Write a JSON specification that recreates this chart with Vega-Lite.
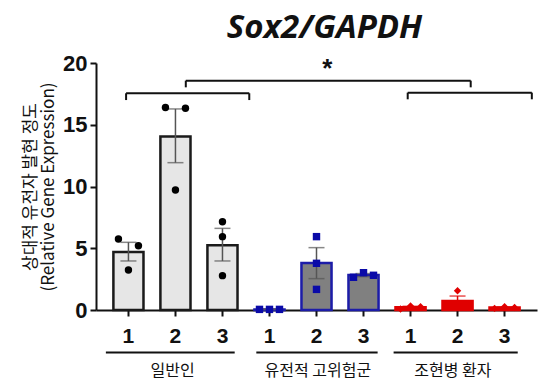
{
  "$schema": "https://vega.github.io/schema/vega-lite/v6.json",
  "width": 441,
  "height": 247,
  "autosize": {"type": "none"},
  "padding": {"left": 96, "right": 23, "top": 63, "bottom": 80},
  "background": "white",
  "config": {"view": {"stroke": null}},
  "title": {"text": "Sox2/GAPDH", "font": "Open Sans", "fontSize": 33, "fontWeight": "bold", "fontStyle": "italic", "color": "#111", "anchor": "middle", "dx": 8, "offset": 7},
  "datasets": {
    "bars": [
      {"cat": "A1", "grp": "A", "mean": 4.7, "lo": 3.97, "hi": 5.48},
      {"cat": "A2", "grp": "A", "mean": 14.05, "lo": 11.93, "hi": 16.28},
      {"cat": "A3", "grp": "A", "mean": 5.25, "lo": 3.97, "hi": 6.61},
      {"cat": "B1", "grp": "B", "mean": 0.05, "lo": 0.03, "hi": 0.07},
      {"cat": "B2", "grp": "B", "mean": 3.8, "lo": 2.54, "hi": 5.05},
      {"cat": "B3", "grp": "B", "mean": 2.83, "lo": 2.7, "hi": 2.95},
      {"cat": "C1", "grp": "C", "mean": 0.22, "lo": 0.15, "hi": 0.3},
      {"cat": "C2", "grp": "C", "mean": 0.73, "lo": 0.32, "hi": 1.13},
      {"cat": "C3", "grp": "C", "mean": 0.2, "lo": 0.15, "hi": 0.25}
    ],
    "points": [
      {"cat": "A1", "grp": "A", "pos": "L", "val": 5.75},
      {"cat": "A1", "grp": "A", "pos": "R", "val": 5.2},
      {"cat": "A1", "grp": "A", "pos": "C", "val": 3.24},
      {"cat": "A2", "grp": "A", "pos": "L", "val": 16.4},
      {"cat": "A2", "grp": "A", "pos": "R", "val": 16.33},
      {"cat": "A2", "grp": "A", "pos": "C", "val": 9.72},
      {"cat": "A3", "grp": "A", "pos": "C", "val": 7.15},
      {"cat": "A3", "grp": "A", "pos": "C", "val": 5.94},
      {"cat": "A3", "grp": "A", "pos": "C", "val": 2.78},
      {"cat": "B1", "grp": "B", "pos": "L", "val": 0.05},
      {"cat": "B1", "grp": "B", "pos": "C", "val": 0.05},
      {"cat": "B1", "grp": "B", "pos": "R", "val": 0.05},
      {"cat": "B2", "grp": "B", "pos": "C", "val": 5.94},
      {"cat": "B2", "grp": "B", "pos": "C", "val": 3.78},
      {"cat": "B2", "grp": "B", "pos": "C", "val": 1.67},
      {"cat": "B3", "grp": "B", "pos": "L", "val": 2.65},
      {"cat": "B3", "grp": "B", "pos": "C", "val": 3.02},
      {"cat": "B3", "grp": "B", "pos": "R", "val": 2.81},
      {"cat": "C1", "grp": "C", "pos": "L", "val": 0.08},
      {"cat": "C1", "grp": "C", "pos": "C", "val": 0.32},
      {"cat": "C1", "grp": "C", "pos": "R", "val": 0.27},
      {"cat": "C2", "grp": "C", "pos": "C", "val": 1.56},
      {"cat": "C2", "grp": "C", "pos": "L", "val": 0.32},
      {"cat": "C2", "grp": "C", "pos": "R", "val": 0.32},
      {"cat": "C3", "grp": "C", "pos": "L", "val": 0.13},
      {"cat": "C3", "grp": "C", "pos": "C", "val": 0.27},
      {"cat": "C3", "grp": "C", "pos": "R", "val": 0.2}
    ],
    "segs": [
      {"x": -0.05, "x2": 2.57, "y": 17.55, "y2": 17.55},
      {"x": -0.05, "x2": -0.05, "y": 17.55, "y2": 17.0},
      {"x": 2.57, "x2": 2.57, "y": 17.55, "y2": 17.0},
      {"x": 1.22, "x2": 7.28, "y": 18.57, "y2": 18.57},
      {"x": 1.22, "x2": 1.22, "y": 18.57, "y2": 18.03},
      {"x": 7.28, "x2": 7.28, "y": 18.57, "y2": 18.03},
      {"x": 5.94, "x2": 8.58, "y": 17.6, "y2": 17.6},
      {"x": 5.94, "x2": 5.94, "y": 17.6, "y2": 17.06},
      {"x": 8.58, "x2": 8.58, "y": 17.6, "y2": 17.06},
      {"x": -0.48, "x2": 2.26, "y": -3.45, "y2": -3.45},
      {"x": 2.72, "x2": 5.3, "y": -3.45, "y2": -3.45},
      {"x": 5.64, "x2": 8.28, "y": -3.45, "y2": -3.45}
    ],
    "groups": [
      {"x": 0.94, "y": -4.95, "t": "일반인"},
      {"x": 4.03, "y": -4.95, "t": "유전적 고위험군"},
      {"x": 6.9, "y": -4.95, "t": "조현병 환자"}
    ],
    "stars": [
      {"x": 4.23, "y": 19.55, "t": "*"}
    ]
  },
  "resolve": {"scale": {"x": "independent"}, "axis": {"x": "independent", "y": "independent"}},
  "layer": [
    {
      "resolve": {"scale": {"color": "independent"}},
      "layer": [
        {
          "data": {"name": "bars"},
          "mark": {"type": "bar", "strokeWidth": 2.5},
          "encoding": {
            "x": {"field": "cat", "type": "nominal", "sort": null,
              "scale": {"paddingInner": 0.36, "paddingOuter": 0.37},
              "axis": {"title": null, "labelAngle": 0, "labelExpr": "slice(datum.label, -1)", "labelFont": "Liberation Sans", "labelFontSize": 21, "labelFontWeight": "bold", "labelColor": "#111", "labelPadding": 9, "domainColor": "#111", "domainWidth": 2, "tickColor": "#111", "tickWidth": 2, "tickSize": 6}},
            "y": {"field": "mean", "type": "quantitative",
              "scale": {"domain": [0, 20], "nice": false},
              "axis": {"values": [0, 5, 10, 15, 20], "grid": false, "title": ["상대적 유전자 발현 정도", "(Relative Gene Expression)"], "titleFont": "Noto Sans CJK KR", "titleFontSize": 17, "titleFontWeight": "normal", "titleColor": "#111", "titlePadding": 5, "titleLineHeight": 18, "labelFont": "Liberation Sans", "labelFontSize": 22, "labelFontWeight": "bold", "labelColor": "#111", "labelPadding": 3, "domainColor": "#111", "domainWidth": 2, "tickColor": "#111", "tickWidth": 2, "tickSize": 6}},
            "fill": {"field": "grp", "type": "nominal", "legend": null, "scale": {"domain": ["A", "B", "C"], "range": ["#e6e6e6", "#808080", "#e00000"]}},
            "stroke": {"field": "grp", "type": "nominal", "legend": null, "scale": {"domain": ["A", "B", "C"], "range": ["#1a1a1a", "#1c1ca8", "#e00000"]}}
          }
        },
        {
          "data": {"name": "bars"},
          "layer": [
            {"mark": {"type": "rule", "strokeWidth": 1.5}, "encoding": {"x": {"field": "cat", "type": "nominal", "sort": null}, "y": {"field": "lo", "type": "quantitative"}, "y2": {"field": "hi"}}},
            {"mark": {"type": "tick", "size": 16, "thickness": 1.5}, "encoding": {"x": {"field": "cat", "type": "nominal", "sort": null}, "y": {"field": "lo", "type": "quantitative"}}},
            {"mark": {"type": "tick", "size": 16, "thickness": 1.5}, "encoding": {"x": {"field": "cat", "type": "nominal", "sort": null}, "y": {"field": "hi", "type": "quantitative"}}}
          ],
          "encoding": {
            "color": {"field": "grp", "type": "nominal", "legend": null, "scale": {"domain": ["A", "B", "C"], "range": ["#555555", "#555555", "#e00000"]}}
          }
        },
        {
          "data": {"name": "points"},
          "layer": [
            {"transform": [{"filter": "datum.pos === 'L'"}], "mark": {"type": "point", "filled": true, "size": 55, "opacity": 1, "xOffset": -10}, "encoding": {"x": {"field": "cat", "type": "nominal", "sort": null}, "y": {"field": "val", "type": "quantitative"}}},
            {"transform": [{"filter": "datum.pos === 'C'"}], "mark": {"type": "point", "filled": true, "size": 55, "opacity": 1}, "encoding": {"x": {"field": "cat", "type": "nominal", "sort": null}, "y": {"field": "val", "type": "quantitative"}}},
            {"transform": [{"filter": "datum.pos === 'R'"}], "mark": {"type": "point", "filled": true, "size": 55, "opacity": 1, "xOffset": 10}, "encoding": {"x": {"field": "cat", "type": "nominal", "sort": null}, "y": {"field": "val", "type": "quantitative"}}}
          ],
          "encoding": {
            "shape": {"field": "grp", "type": "nominal", "legend": null, "scale": {"domain": ["A", "B", "C"], "range": ["circle", "square", "diamond"]}},
            "color": {"field": "grp", "type": "nominal", "legend": null, "scale": {"domain": ["A", "B", "C"], "range": ["#000000", "#0a0aa8", "#e00000"]}}
          }
        }
      ]
    },
    {
      "layer": [
        {
          "data": {"name": "segs"},
          "mark": {"type": "rule", "strokeWidth": 2, "color": "#111"},
          "encoding": {
            "x": {"field": "x", "type": "quantitative", "scale": {"domain": [-0.69, 8.69], "nice": false, "zero": false}, "axis": null},
            "x2": {"field": "x2"},
            "y": {"field": "y", "type": "quantitative", "scale": {"domain": [0, 20], "nice": false}, "axis": null},
            "y2": {"field": "y2"}
          }
        },
        {
          "data": {"name": "groups"},
          "mark": {"type": "text", "font": "Noto Sans CJK KR", "fontSize": 16, "color": "#111", "baseline": "middle", "align": "center"},
          "encoding": {
            "x": {"field": "x", "type": "quantitative"},
            "y": {"field": "y", "type": "quantitative"},
            "text": {"field": "t"}
          }
        },
        {
          "data": {"name": "stars"},
          "mark": {"type": "text", "font": "Liberation Sans", "fontSize": 26, "fontWeight": "bold", "color": "#111", "baseline": "middle", "align": "center"},
          "encoding": {
            "x": {"field": "x", "type": "quantitative"},
            "y": {"field": "y", "type": "quantitative"},
            "text": {"field": "t"}
          }
        }
      ]
    }
  ]
}
